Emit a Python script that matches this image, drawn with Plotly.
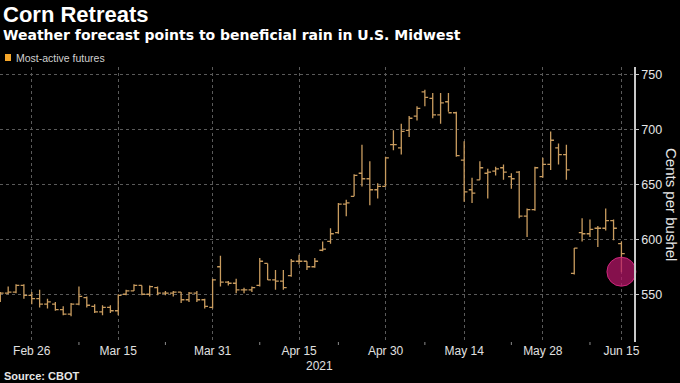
import plotly.graph_objects as go

dates = [
    "2021-02-22", "2021-02-23", "2021-02-24", "2021-02-25", "2021-02-26",
    "2021-03-01", "2021-03-02", "2021-03-03", "2021-03-04", "2021-03-05",
    "2021-03-08", "2021-03-09", "2021-03-10", "2021-03-11", "2021-03-12",
    "2021-03-15", "2021-03-16", "2021-03-17", "2021-03-18", "2021-03-19",
    "2021-03-22", "2021-03-23", "2021-03-24", "2021-03-25", "2021-03-26",
    "2021-03-29", "2021-03-30", "2021-03-31", "2021-04-01", "2021-04-02",
    "2021-04-05", "2021-04-06", "2021-04-07", "2021-04-08", "2021-04-09",
    "2021-04-12", "2021-04-13", "2021-04-14", "2021-04-15", "2021-04-16",
    "2021-04-19", "2021-04-20", "2021-04-21", "2021-04-22", "2021-04-23",
    "2021-04-26", "2021-04-27", "2021-04-28", "2021-04-29", "2021-04-30",
    "2021-05-03", "2021-05-04", "2021-05-05", "2021-05-06", "2021-05-07",
    "2021-05-10", "2021-05-11", "2021-05-12", "2021-05-13", "2021-05-14",
    "2021-05-17", "2021-05-18", "2021-05-19", "2021-05-20", "2021-05-21",
    "2021-05-24", "2021-05-25", "2021-05-26", "2021-05-27", "2021-05-28",
    "2021-06-01", "2021-06-02", "2021-06-03", "2021-06-04",
    "2021-06-07", "2021-06-08", "2021-06-09", "2021-06-10", "2021-06-11",
    "2021-06-14",
]

open_ = [549, 551, 552, 558, 549, 546, 541, 541, 536, 532,
         541, 547, 539, 534, 538, 535, 550, 553, 558, 550,
         556, 551, 551, 552, 545, 551, 545, 538, 575, 561,
         560, 554, 554, 558, 578, 563, 562, 567, 580, 580,
         575, 590, 598, 606, 632, 639, 660, 655, 645, 648,
         686, 683, 699, 712, 734, 728, 713, 725, 715, 672,
         645, 654, 660, 662, 665, 657, 661, 621, 627, 657,
         668, 683, 677, 569, 606, 605, 610, 610, 617, 596]
high = [552, 557, 559, 559, 552, 554, 546, 543, 539, 542,
        557, 548, 541, 540, 540, 550, 554, 559, 558, 558,
        557, 553, 553, 552, 552, 553, 546, 564, 585, 562,
        564, 556, 557, 583, 578, 572, 572, 582, 586, 580,
        583, 598, 610, 633, 636, 659, 686, 671, 651, 675,
        699, 705, 712, 721, 736, 733, 733, 733, 716, 689,
        656, 671, 664, 666, 668, 660, 662, 628, 666, 674,
        698, 687, 686, 592, 619, 618, 612, 628, 618, 598]
low = [543, 550, 551, 546, 541, 538, 537, 535, 531, 530,
       540, 538, 533, 531, 533, 531, 549, 553, 549, 548,
       549, 549, 548, 542, 543, 543, 537, 537, 557, 558,
       551, 551, 552, 557, 563, 554, 554, 566, 577, 572,
       574, 589, 596, 605, 621, 639, 648, 631, 637, 648,
       681, 677, 693, 708, 721, 710, 705, 716, 675, 634,
       633, 654, 637, 658, 654, 646, 619, 602, 626, 656,
       663, 668, 654, 568, 598, 602, 593, 608, 599, 570]
close = [551, 552, 558, 549, 546, 541, 543, 536, 532, 541,
         548, 540, 534, 538, 535, 549, 553, 558, 550, 557,
         551, 551, 552, 545, 551, 545, 539, 563, 561, 560,
         554, 554, 556, 580, 563, 562, 556, 580, 580, 575,
         580, 591, 605, 632, 633, 658, 655, 645, 648, 674,
         686, 698, 710, 719, 729, 713, 724, 715, 676, 643,
         642, 665, 661, 664, 661, 655, 621, 627, 665, 668,
         690, 677, 663, 592, 605, 609, 610, 617, 610, 587]

tick_dates = ["2021-02-26", "2021-03-15", "2021-03-31", "2021-04-15",
              "2021-04-30", "2021-05-14", "2021-05-28", "2021-06-14"]
tick_labels = ["Feb 26", "Mar 15", "Mar 31", "Apr 15",
               "Apr 30", "May 14", "May 28", "Jun 15"]
minor_tick_dates = ["2021-03-08", "2021-03-23", "2021-04-08", "2021-04-22",
                    "2021-05-07", "2021-05-24", "2021-06-08"]
y_ticks = [550, 600, 650, 700, 750]

highlight_date = ["2021-06-14"]
highlight_value = [570.5]

BAR = "#c99c5f"
FONT = "Liberation Sans, Arial, sans-serif"
SUBFONT = "DejaVu Sans, Verdana, sans-serif"

fig = go.Figure()

fig.add_trace(go.Ohlc(
    x=dates, open=open_, high=high, low=low, close=close,
    increasing=dict(line=dict(color=BAR, width=1.3)),
    decreasing=dict(line=dict(color=BAR, width=1.3)),
    tickwidth=0.42, showlegend=False, name="Most-active futures",
))

fig.add_trace(go.Scatter(
    x=highlight_date, y=highlight_value, mode="markers",
    marker=dict(size=29, color="rgba(185,22,105,0.72)",
                line=dict(color="rgba(215,40,130,0.9)", width=1)),
    hoverinfo="skip", showlegend=False, cliponaxis=False,
))

PH = 275.0  # plot height in px
PW = 634.0  # plot width in px


def py(p):
    return (342.0 - p) / PH


def px(p):
    return p / PW


fig.update_layout(
    width=680, height=383,
    margin=dict(l=0, r=46, t=67, b=41, autoexpand=False),
    paper_bgcolor="#000000", plot_bgcolor="#000000",
    font=dict(family=FONT, color="#e6e6e6", size=12),
    showlegend=False,
    xaxis=dict(
        type="category", categoryorder="array", categoryarray=dates,
        range=[-0.04, 80.6], automargin=False,
        tickmode="array", tickvals=tick_dates, ticktext=tick_labels,
        showgrid=True, gridcolor="#5a5a5a", griddash="dot", gridwidth=1,
        showline=False, zeroline=False, ticks="",
        tickfont=dict(size=12, color="#e0e0e0", family=FONT),
        rangeslider=dict(visible=False),
        fixedrange=True,
    ),
    yaxis=dict(
        side="right", range=[506.6, 756.6], automargin=False,
        tickmode="array", tickvals=y_ticks,
        showgrid=True, gridcolor="#5a5a5a", griddash="dot", gridwidth=1,
        showline=True, linecolor="#c8c8c8", linewidth=1.5,
        ticks="outside", ticklen=3, tickcolor="#c8c8c8", tickwidth=1,
        tickfont=dict(size=12.5, color="#e6e6e6", family=FONT),
        zeroline=False, fixedrange=True,
    ),
)

for d in minor_tick_dates:
    fig.add_shape(type="line", xref="x", yref="paper", x0=d, x1=d,
                  y0=0, y1=-3.0 / PH, line=dict(color="#8a8a8a", width=1))

fig.add_annotation(text="<b>Corn Retreats</b>", xref="paper", yref="paper",
                   x=px(1), y=py(15), xanchor="left", yanchor="middle",
                   showarrow=False, font=dict(size=22, color="#ffffff", family=FONT))
fig.add_annotation(text="<b>Weather forecast points to beneficial rain in U.S. Midwest</b>",
                   xref="paper", yref="paper", x=px(1), y=py(35),
                   xanchor="left", yanchor="middle", showarrow=False,
                   font=dict(size=14, color="#ffffff", family=SUBFONT))
fig.add_shape(type="rect", xref="paper", yref="paper",
              x0=px(5), x1=px(11), y0=py(61), y1=py(54),
              fillcolor="#f5a62a", line=dict(width=0))
fig.add_annotation(text="Most-active futures", xref="paper", yref="paper",
                   x=px(14), y=py(57.5), xanchor="left", yanchor="middle",
                   showarrow=False, font=dict(size=10.5, color="#d0d0d0", family=FONT))
fig.add_annotation(text="Cents per bushel", xref="paper", yref="paper",
                   x=px(672), y=py(204), xanchor="center", yanchor="middle",
                   textangle=90, showarrow=False,
                   font=dict(size=15, color="#e6e6e6", family=FONT))
fig.add_annotation(text="2021", xref="paper", yref="paper",
                   x=px(319), y=py(366), xanchor="center", yanchor="middle",
                   showarrow=False, font=dict(size=12, color="#e0e0e0", family=FONT))
fig.add_annotation(text="<b>Source: CBOT</b>", xref="paper", yref="paper",
                   x=px(2), y=py(376), xanchor="left", yanchor="middle",
                   showarrow=False, font=dict(size=11, color="#e6e6e6", family=FONT))

fig.write_html("out.html", config={"displayModeBar": False},
               post_script="document.body.style.margin='0px';")
